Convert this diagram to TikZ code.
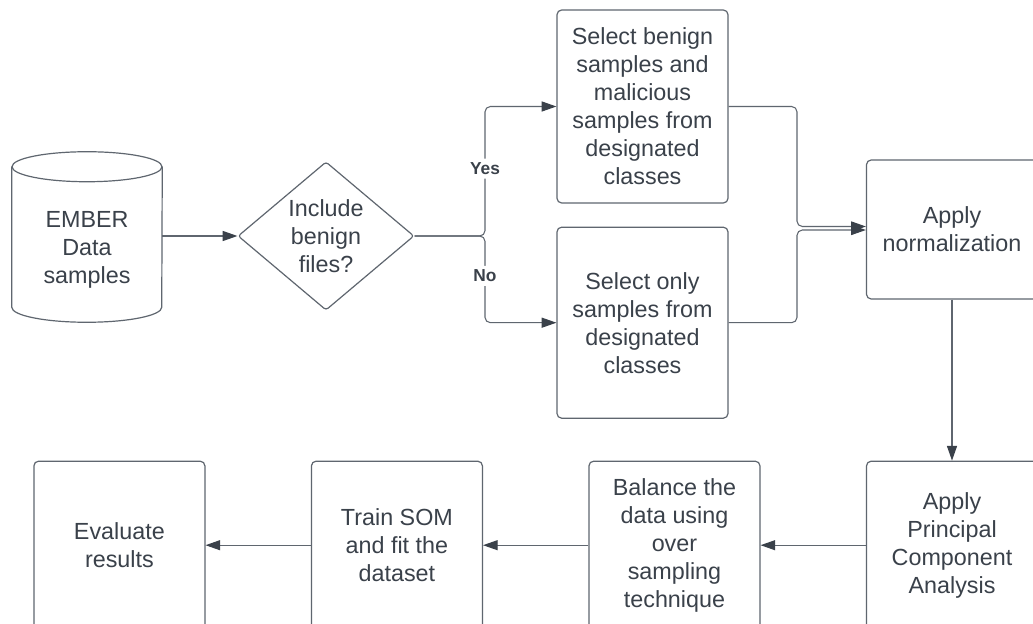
\documentclass[tikz,border=0pt]{standalone}
\usepackage{fontspec}
\setmainfont{Liberation Sans}
\definecolor{flowLine}{HTML}{5F666F}
\definecolor{flowText}{HTML}{3A414A}
\usetikzlibrary{arrows.meta, positioning, shapes.geometric}
\tikzset{
    process box/.style={rectangle, draw=flowLine, line width=0.9pt, rounded corners=3.5pt, minimum width=128.25pt, align=center, text=flowText, inner sep=2pt, font=\fontsize{17.5pt}{21pt}\selectfont},
    decision node/.style={diamond, draw=flowLine, line width=0.9pt, rounded corners=2pt, minimum width=132pt, minimum height=108.75pt, inner sep=0pt, align=center, text=flowText, font=\fontsize{17.5pt}{21pt}\selectfont},
    store text/.style={align=center, text=flowText, font=\fontsize{17.5pt}{21pt}\selectfont},
    flow arrow/.style={-{Triangle[length=11pt, width=7.5pt, color=flowText]}, line width=0.8pt, flowLine},
    branch label/.style={fill=white, text=flowText, inner sep=3pt, font=\fontsize{13pt}{15pt}\selectfont\bfseries},
}

\begin{document}
\begin{tikzpicture}[x=0.75pt, y=-0.75pt, node distance=79pt]
    \useasboundingbox (0,0) rectangle (1033,624);
    \fill[white] (0,0) rectangle (1033,624);

    % data store drawn as a cylinder
    \node[minimum width=112.5pt, minimum height=127.5pt, inner sep=0pt] (db) at (87,237) {};
    \draw[flowLine, line width=0.9pt] ([yshift=-11.25pt]db.north west) -- ([yshift=11.25pt]db.south west)
        arc[start angle=180, end angle=360, x radius=56.25pt, y radius=11.25pt] -- ([yshift=-11.25pt]db.north east);
    \draw[flowLine, line width=0.9pt] ([yshift=-11.25pt]db.north) ellipse [x radius=56.25pt, y radius=11.25pt];
    \node[store text] (db text) at (87,250) {EMBER\\Data\\samples};

    \node[decision node] (incl) at (326,236) {Include\\benign\\files?};

    \node[process box, minimum height=144.75pt] (sel both) at (642.5,106.5) {Select benign\\samples and\\malicious\\samples from\\designated\\classes};
    \node[process box, minimum height=143.25pt, below=17.25pt of sel both] (sel only) {Select only\\samples from\\designated\\classes};

    \node[process box, minimum height=104.25pt] (norm) at (952,229.5) {Apply\\normalization};
    \node[process box, minimum height=126pt, below=120.75pt of norm] (pca) {Apply\\Principal\\Component\\Analysis};
    \node[process box, minimum height=126pt, left=of pca] (balance) {Balance the\\data using\\over\\sampling\\technique};
    \node[process box, minimum height=126pt, left=of balance] (train) {Train SOM\\and fit the\\dataset};
    \node[process box, minimum height=126pt, left=of train] (eval) {Evaluate\\results};

    \coordinate (split) at (485,236);
    \coordinate (merge up) at (797,226.5);
    \coordinate (merge low) at (797,230);

    \draw[flow arrow] (db.east |- incl) -- (incl.west);
    \draw[flow arrow, rounded corners=4pt] (incl.east) -- (split) |- node[branch label, pos=0.26] {Yes} (sel both.west);
    \draw[flow arrow, rounded corners=4pt] (incl.east) -- (split) |- node[branch label, pos=0.23] {No} (sel only.west);

    \draw[flow arrow, rounded corners=4pt] (sel both.east) -| (merge up) -- (merge up -| norm.west);
    \draw[flow arrow, rounded corners=4pt] (sel only.east) -| (merge low) -- (merge low -| norm.west);

    \draw[flow arrow] (norm) -- (pca);
    \draw[flow arrow] (pca) -- (balance);
    \draw[flow arrow] (balance) -- (train);
    \draw[flow arrow] (train) -- (eval);
\end{tikzpicture}
\end{document}
